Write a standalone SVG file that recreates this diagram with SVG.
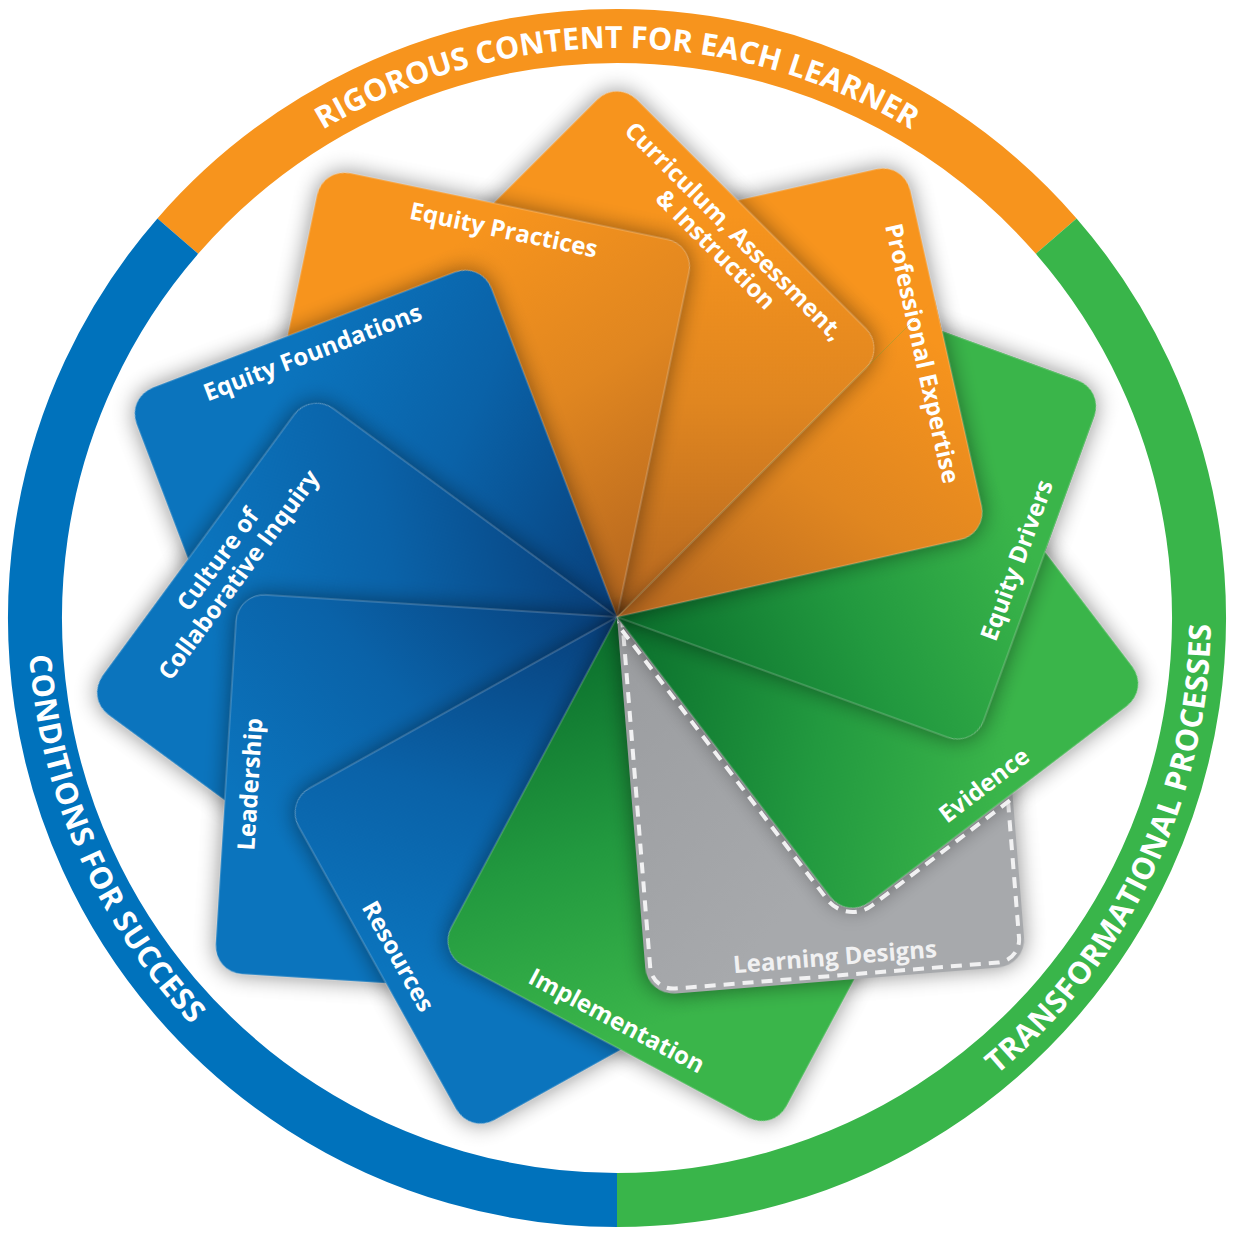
<svg xmlns="http://www.w3.org/2000/svg" xmlns:xlink="http://www.w3.org/1999/xlink" width="1242" height="1242" viewBox="0 0 1242 1242">
<defs>
<style>
.ring{fill:none;stroke-width:54}
.rt{font-family:"Open Sans","Liberation Sans",sans-serif;font-weight:700;font-size:30.5px;fill:#fff}
.lbl{font-family:"Open Sans","Liberation Sans",sans-serif;font-weight:700;font-size:24px;fill:#fff;text-anchor:middle}
.edge{stroke:#fff;stroke-opacity:.35;stroke-width:1}
.dash{fill:none;stroke:#F1F1F2;stroke-width:4;stroke-dasharray:11 8}
</style>
<path id="card" d="M0,0 H352 A28,28 0 0 1 380,28 V352 A28,28 0 0 1 352,380 H28 A28,28 0 0 1 0,352 Z"/>
<linearGradient id="gO" x1="0" y1="0" x2="1" y2="1">
<stop offset="0" stop-color="#B4661F"/><stop offset="0.4" stop-color="#E08620"/><stop offset="0.75" stop-color="#F7941D"/>
</linearGradient>
<linearGradient id="gB" x1="0" y1="0" x2="1" y2="1">
<stop offset="0" stop-color="#083F7A"/><stop offset="0.4" stop-color="#0A62A8"/><stop offset="0.75" stop-color="#0B74BD"/>
</linearGradient>
<linearGradient id="gG" x1="0" y1="0" x2="1" y2="1">
<stop offset="0" stop-color="#0A6E2C"/><stop offset="0.4" stop-color="#22993F"/><stop offset="0.75" stop-color="#3AB54A"/>
</linearGradient>
<linearGradient id="gY" x1="0" y1="0" x2="1" y2="1">
<stop offset="0" stop-color="#9A9C9F"/><stop offset="0.6" stop-color="#A7A9AC"/>
</linearGradient>
<filter id="sh" x="-25%" y="-25%" width="150%" height="150%" color-interpolation-filters="sRGB">
<feGaussianBlur in="SourceAlpha" stdDeviation="11"/>
<feComponentTransfer><feFuncA type="linear" slope="0.45"/></feComponentTransfer>
<feMerge><feMergeNode/><feMergeNode in="SourceGraphic"/></feMerge>
</filter>
<clipPath id="wedge"><polygon points="617,617 1678,-444 2027,104 2111,748 1916,1367 1367,1916"/></clipPath>
<clipPath id="union">
<use href="#card" xlink:href="#card" transform="translate(617,617) rotate(290)"/>
<use href="#card" xlink:href="#card" transform="translate(617,617) rotate(257.3)"/>
<use href="#card" xlink:href="#card" transform="translate(617,617) rotate(225)"/>
<use href="#card" xlink:href="#card" transform="translate(617,617) rotate(28.1)"/>
<use href="#card" xlink:href="#card" transform="translate(617,617) rotate(-4.6)"/>
<use href="#card" xlink:href="#card" transform="translate(617,617) rotate(-37.3)"/>
</clipPath>
<clipPath id="clipGrey"><use xlink:href="#card" href="#card" transform="translate(617,617) rotate(-4.6)"/></clipPath>
<path id="arcTop" d="M47,618 A570,570 0 0 1 1187,618"/>
<path id="arcLeft" d="M378.3,74.1 A594,594 0 0 0 855.7,1161.9"/>
<path id="arcRight" d="M362.2,1154.6 A594,594 0 0 0 871.8,81.4"/>
</defs>
<rect width="1242" height="1242" fill="#fff"/>
<g id="ring">
<g id="ring-content"><path class="ring" stroke="#F7941D" d="M177.8,236.1 A582,582 0 0 1 1056.2,236.1"/>
<text class="rt"><textPath href="#arcTop" xlink:href="#arcTop" startOffset="50%" text-anchor="middle">RIGOROUS CONTENT FOR EACH LEARNER</textPath></text></g>
<g id="ring-processes"><path class="ring" stroke="#39B54A" d="M1056.2,236.1 A582,582 0 0 1 617,1200"/>
<text class="rt" letter-spacing="0.5"><textPath href="#arcRight" xlink:href="#arcRight" startOffset="50%" text-anchor="middle">TRANSFORMATIONAL PROCESSES</textPath></text></g>
<g id="ring-conditions"><path class="ring" stroke="#0072BC" d="M617,1200 A582,582 0 0 1 177.8,236.1"/>
<text class="rt" letter-spacing="0.5"><textPath href="#arcLeft" xlink:href="#arcLeft" startOffset="50%" text-anchor="middle">CONDITIONS FOR SUCCESS</textPath></text></g>
</g>
<g id="connectors"/>
<g id="cards">
<g id="equity-drivers" transform="translate(617,617) rotate(290)">
<use href="#card" xlink:href="#card" fill="url(#gG)" class="edge" filter="url(#sh)"/>
<text class="lbl" x="190" y="364.6">Equity Drivers</text>
</g>
<g id="professional-expertise" transform="translate(617,617) rotate(257.3)">
<use href="#card" xlink:href="#card" fill="url(#gO)" class="edge" filter="url(#sh)"/>
<text class="lbl" x="190" y="364.6" transform="rotate(180 190 356)">Professional Expertise</text>
</g>
<g id="curriculum" transform="translate(617,617) rotate(225)">
<use href="#card" xlink:href="#card" fill="url(#gO)" class="edge" filter="url(#sh)"/>
<text class="lbl" transform="rotate(180 190 356)"><tspan x="190" y="364.6">Curriculum, Assessment,</tspan><tspan x="190" y="390.6">&amp; Instruction</tspan></text>
</g>
<g id="equity-practices" transform="translate(617,617) rotate(191.8)">
<use href="#card" xlink:href="#card" fill="url(#gO)" class="edge" filter="url(#sh)"/>
<text class="lbl" x="190" y="364.6" transform="rotate(180 190 356)">Equity Practices</text>
</g>
<g id="equity-foundations" transform="translate(617,617) rotate(159.1)">
<use href="#card" xlink:href="#card" fill="url(#gB)" class="edge" filter="url(#sh)"/>
<text class="lbl" x="190" y="364.6" transform="rotate(180 190 356)">Equity Foundations</text>
</g>
<g id="culture" transform="translate(617,617) rotate(126.3)">
<use href="#card" xlink:href="#card" fill="url(#gB)" class="edge" filter="url(#sh)"/>
<text class="lbl" transform="rotate(180 190 356)"><tspan x="190" y="364.6">Culture of</tspan><tspan x="190" y="390.6">Collaborative Inquiry</tspan></text>
</g>
<g id="leadership" transform="translate(617,617) rotate(93.6)">
<use href="#card" xlink:href="#card" fill="url(#gB)" class="edge" filter="url(#sh)"/>
<text class="lbl" x="190" y="364.6" transform="rotate(180 190 356)">Leadership</text>
</g>
<g id="resources" transform="translate(617,617) rotate(60.9)">
<use href="#card" xlink:href="#card" fill="url(#gB)" class="edge" filter="url(#sh)"/>
<text class="lbl" x="190" y="364.6">Resources</text>
</g>
<g id="implementation" transform="translate(617,617) rotate(28.1)">
<use href="#card" xlink:href="#card" fill="url(#gG)" class="edge" filter="url(#sh)"/>
<text class="lbl" x="190" y="364.6">Implementation</text>
</g>
<g id="learning-designs" transform="translate(617,617) rotate(-4.6)">
<use href="#card" xlink:href="#card" fill="url(#gY)" filter="url(#sh)"/>
<path class="dash" d="M5,5 H352 A23,23 0 0 1 375,28 V352 A23,23 0 0 1 352,375 H28 A23,23 0 0 1 5,352 Z"/>
<text class="lbl" x="190" y="364.6" style="fill:#F1F1F2">Learning Designs</text>
</g>
<g id="evidence" transform="translate(617,617) rotate(-37.3)">
<use href="#card" xlink:href="#card" fill="url(#gG)" class="edge" filter="url(#sh)"/>
<text class="lbl" x="190" y="364.6">Evidence</text>
</g>
<g id="learning-designs-outline" clip-path="url(#clipGrey)">
<path class="dash" transform="translate(617,617) rotate(-37.3)" d="M-4,-4 H352 A32,32 0 0 1 384,28 V352 A32,32 0 0 1 352,384 H28 A32,32 0 0 1 -4,352 Z"/>
</g>
<g id="overlap-restack" clip-path="url(#wedge)">
<g clip-path="url(#union)">
<use href="#equity-drivers" xlink:href="#equity-drivers"/>
<use href="#professional-expertise" xlink:href="#professional-expertise"/>
<use href="#curriculum" xlink:href="#curriculum"/>
</g>
</g>
</g>
</svg>
